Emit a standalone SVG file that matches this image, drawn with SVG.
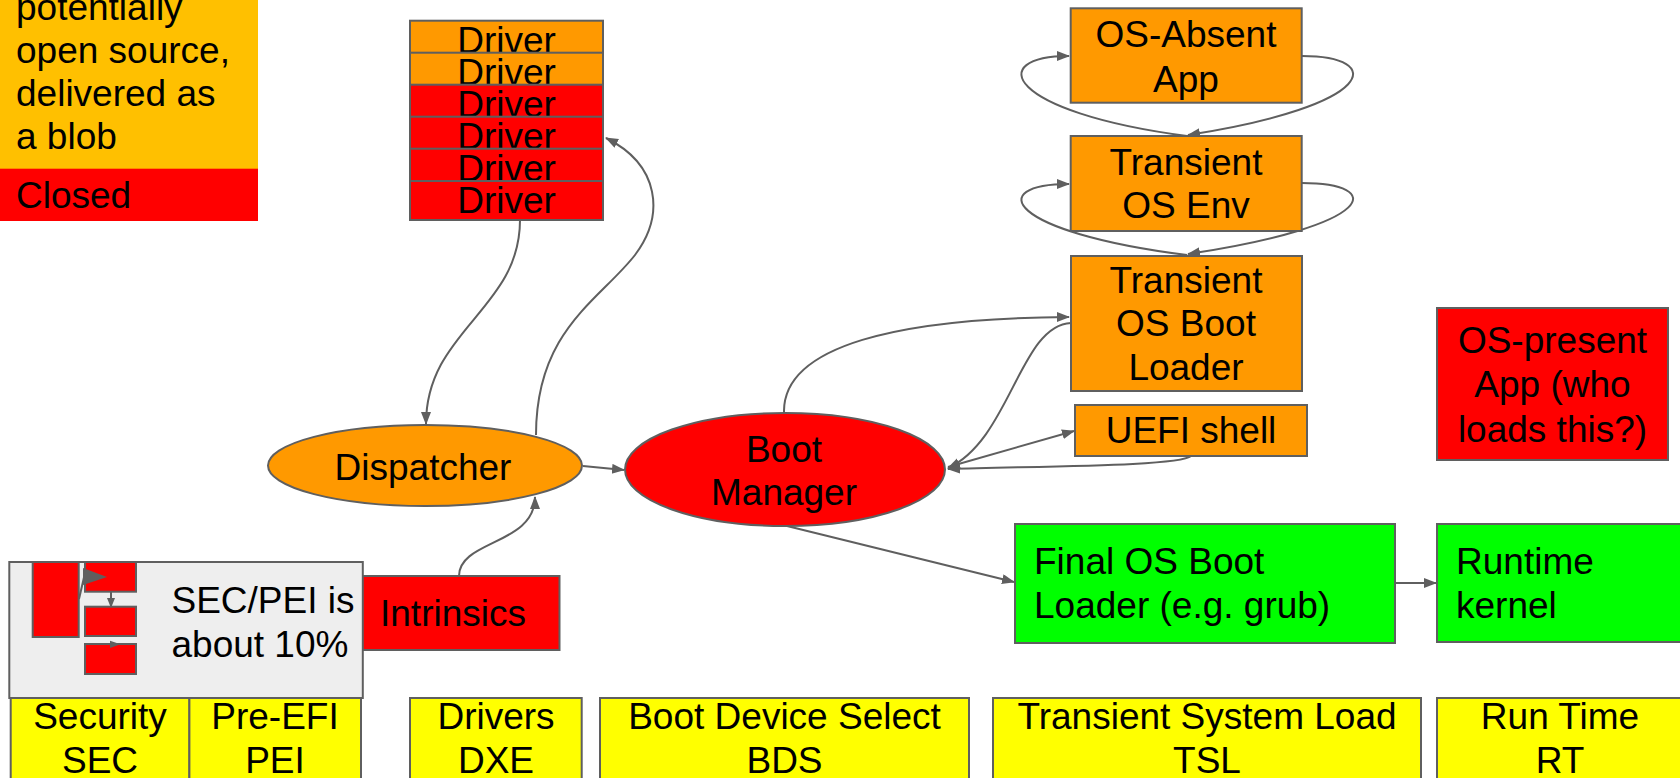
<svg xmlns="http://www.w3.org/2000/svg" width="1680" height="778" viewBox="0 0 1680 778">
  <style>
    text { font-family: "Liberation Sans", Arial, sans-serif; font-size: 37px; fill: #000; }
    .c { text-anchor: middle; }
    .box { stroke: #5f5f5f; stroke-width: 2; }
    .orange { fill: #ff9900; }
    .red { fill: #ff0000; }
    .green { fill: #00ff00; }
    .yellow { fill: #ffff00; }
    .grey { fill: #eeeeee; }
    .conn { fill: none; stroke: #5f5f5f; stroke-width: 2; }
  </style>
  <defs>
    <marker id="arrow" markerUnits="userSpaceOnUse" markerWidth="14" markerHeight="12" refX="12" refY="5" orient="auto">
      <path d="M0,0 L13,5 L0,10 z" fill="#5f5f5f"/>
    </marker>
    <marker id="arrowSmall" markerUnits="userSpaceOnUse" markerWidth="10" markerHeight="9" refX="9" refY="4" orient="auto">
      <path d="M0,0 L10,4 L0,8 z" fill="#5f5f5f"/>
    </marker>
  </defs>

  <rect width="1680" height="778" fill="#ffffff"/>

  <!-- Legend -->
  <g id="legend">
    <rect x="0" y="-10" width="258" height="179" fill="#ffc000"/>
    <rect x="0" y="168.7" width="258" height="52.3" fill="#ff0000"/>
    <text x="16" y="20">potentially</text>
    <text x="16" y="63">open source,</text>
    <text x="16" y="106">delivered as</text>
    <text x="16" y="149">a blob</text>
    <text x="16" y="208">Closed</text>
  </g>

  <!-- Driver stack -->
  <g id="drivers">
    <rect class="box orange" x="410" y="20.7" width="193" height="39"/>
    <text class="c" x="506.5" y="52.7">Driver</text>
    <rect class="box orange" x="410" y="52.7" width="193" height="39"/>
    <text class="c" x="506.5" y="84.7">Driver</text>
    <rect class="box red" x="410" y="84.7" width="193" height="39"/>
    <text class="c" x="506.5" y="116.7">Driver</text>
    <rect class="box red" x="410" y="116.7" width="193" height="39"/>
    <text class="c" x="506.5" y="148.7">Driver</text>
    <rect class="box red" x="410" y="148.7" width="193" height="39"/>
    <text class="c" x="506.5" y="180.7">Driver</text>
    <rect class="box red" x="410" y="181" width="193" height="39"/>
    <text class="c" x="506.5" y="213.3">Driver</text>
  </g>

  <!-- Connectors -->
  <g id="connectors">
    <path class="conn" d="M520,220 C520,310 426,330 426,424" marker-end="url(#arrow)"/>
    <path class="conn" d="M536,435 C536,330 600,300 635,255 C665,215 660,165 606,138" marker-end="url(#arrow)"/>
    <path class="conn" d="M583,466 L624,470" marker-end="url(#arrow)"/>
    <path class="conn" d="M459,576 C459,540 535,545 535,497" marker-end="url(#arrow)"/>
    <path class="conn" d="M784,413 C782,345 900,318 1069,317" marker-end="url(#arrow)"/>
    <path class="conn" d="M1071,323 C1020,325 1010,440 948,468" marker-end="url(#arrow)"/>
    <path class="conn" d="M948,467 L1074,431" marker-end="url(#arrow)"/>
    <path class="conn" d="M1191,456 C1180,466 1050,466 948,469" marker-end="url(#arrow)"/>
    <path class="conn" d="M787,526 L1014,582" marker-end="url(#arrow)"/>
    <path class="conn" d="M1395,583 L1436,583" marker-end="url(#arrow)"/>
    <path class="conn" d="M1302,56 C1385,56 1380,105 1188,135" marker-end="url(#arrow)"/>
    <path class="conn" d="M1187,136 C1005,112 985,56 1069,56" marker-end="url(#arrow)"/>
    <path class="conn" d="M1302,183 C1385,183 1380,225 1188,254" marker-end="url(#arrow)"/>
    <path class="conn" d="M1187,255 C1005,232 985,184 1069,184" marker-end="url(#arrow)"/>
  </g>

  <!-- Right column -->
  <g id="os-absent-app">
    <rect class="box orange" x="1070.7" y="8.3" width="231" height="94.4"/>
    <text class="c" x="1186" y="46.7">OS-Absent</text>
    <text class="c" x="1186" y="91.7">App</text>
  </g>
  <g id="transient-os-env">
    <rect class="box orange" x="1070.7" y="136" width="231" height="95"/>
    <text class="c" x="1186" y="175">Transient</text>
    <text class="c" x="1186" y="218">OS Env</text>
  </g>
  <g id="transient-os-boot-loader">
    <rect class="box orange" x="1071" y="256" width="231" height="135"/>
    <text class="c" x="1186" y="292.7">Transient</text>
    <text class="c" x="1186" y="336">OS Boot</text>
    <text class="c" x="1186" y="380">Loader</text>
  </g>
  <g id="uefi-shell">
    <rect class="box orange" x="1075" y="405" width="232" height="51"/>
    <text class="c" x="1191" y="443.3">UEFI shell</text>
  </g>
  <g id="os-present-app">
    <rect class="box red" x="1437" y="308" width="231" height="152"/>
    <text class="c" x="1552.5" y="353">OS-present</text>
    <text class="c" x="1552.5" y="397">App (who</text>
    <text class="c" x="1552.5" y="442">loads this?)</text>
  </g>
  <g id="final-os-boot-loader">
    <rect class="box green" x="1015" y="524" width="380" height="119"/>
    <text x="1034" y="574">Final OS Boot</text>
    <text x="1034" y="618">Loader (e.g. grub)</text>
  </g>
  <g id="runtime-kernel">
    <rect class="box green" x="1437" y="524" width="260" height="118"/>
    <text x="1456" y="574">Runtime</text>
    <text x="1456" y="618">kernel</text>
  </g>

  <!-- Centre nodes -->
  <g id="dispatcher">
    <ellipse class="box orange" cx="425" cy="465.5" rx="157" ry="40.5"/>
    <text class="c" x="423" y="480">Dispatcher</text>
  </g>
  <g id="boot-manager">
    <ellipse class="box red" cx="785" cy="469.5" rx="160" ry="56.5"/>
    <text class="c" x="784" y="462">Boot</text>
    <text class="c" x="784" y="505">Manager</text>
  </g>
  <g id="intrinsics">
    <rect class="box red" x="360.5" y="576" width="199" height="74"/>
    <text x="380" y="626">Intrinsics</text>
  </g>

  <!-- SEC/PEI panel with its small flow sketch -->
  <g id="sec-pei">
    <rect class="box grey" x="9.3" y="562" width="353.5" height="136"/>
    <rect class="box red" x="32.7" y="562" width="46" height="75"/>
    <rect class="box red" x="85" y="562" width="51" height="29.7"/>
    <rect class="box red" x="85" y="606.7" width="51" height="29.3"/>
    <rect class="box red" x="85" y="644" width="51" height="30"/>
    <path d="M79,599 L85,573" fill="none" stroke="#5f5f5f" stroke-width="2"/>
    <path d="M83,568 L107,577 L83,585 z" fill="#5f5f5f"/>
    <path class="conn" d="M111,592 L111,607" marker-end="url(#arrowSmall)"/>
    <path d="M110,640.7 L120.5,644.3 L110,648 z" fill="#5f5f5f"/>
    <text x="171.5" y="613">SEC/PEI is</text>
    <text x="171.5" y="657">about 10%</text>
  </g>

  <!-- Phase bar -->
  <g id="phase-sec">
    <rect class="box yellow" x="10.7" y="698" width="178.7" height="92"/>
    <text class="c" x="100" y="729">Security</text>
    <text class="c" x="100" y="773">SEC</text>
  </g>
  <g id="phase-pei">
    <rect class="box yellow" x="189.4" y="698" width="171.6" height="92"/>
    <text class="c" x="275" y="729">Pre-EFI</text>
    <text class="c" x="275" y="773">PEI</text>
  </g>
  <g id="phase-dxe">
    <rect class="box yellow" x="410" y="698" width="171.7" height="92"/>
    <text class="c" x="496" y="729">Drivers</text>
    <text class="c" x="496" y="773">DXE</text>
  </g>
  <g id="phase-bds">
    <rect class="box yellow" x="600" y="698" width="369" height="92"/>
    <text class="c" x="784.5" y="729">Boot Device Select</text>
    <text class="c" x="784.5" y="773">BDS</text>
  </g>
  <g id="phase-tsl">
    <rect class="box yellow" x="993" y="698" width="428" height="92"/>
    <text class="c" x="1207" y="729">Transient System Load</text>
    <text class="c" x="1207" y="773">TSL</text>
  </g>
  <g id="phase-rt">
    <rect class="box yellow" x="1437" y="698" width="260" height="92"/>
    <text class="c" x="1560" y="729">Run Time</text>
    <text class="c" x="1560" y="773">RT</text>
  </g>
</svg>
